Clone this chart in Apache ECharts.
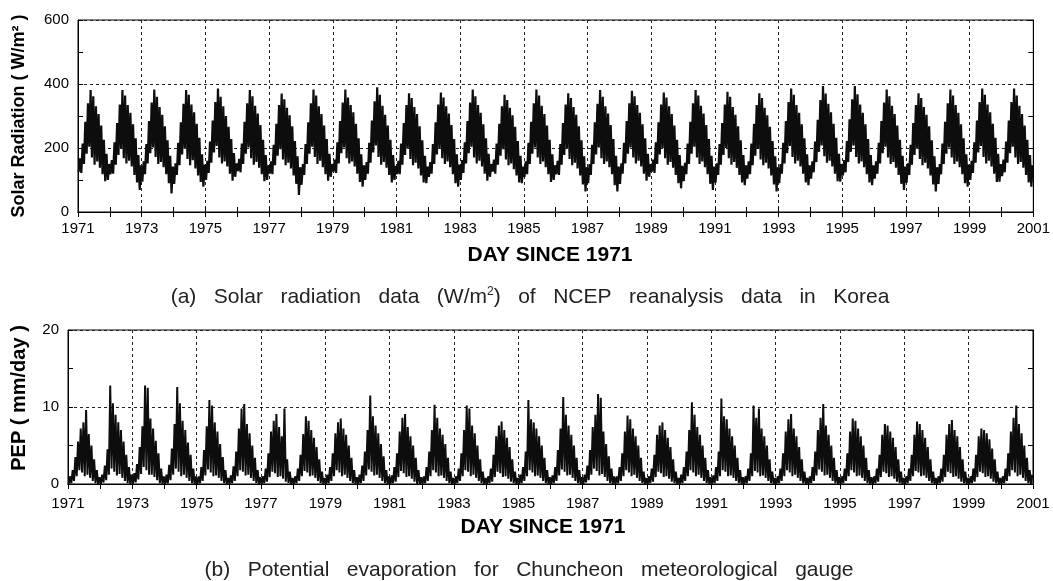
<!DOCTYPE html>
<html>
<head>
<meta charset="utf-8">
<script src="https://cdn.jsdelivr.net/npm/echarts@6/dist/echarts.min.js"></script>
<style>
html,body{margin:0;padding:0;background:#fff;}
#chart{width:1053px;height:581px;}
</style>
</head>
<body>
<div id="chart"></div>
<script>
// Years covered (each year: 12 monthly low/high envelope values)
const years = [1971,1972,1973,1974,1975,1976,1977,1978,1979,1980,1981,1982,1983,1984,1985,
               1986,1987,1988,1989,1990,1991,1992,1993,1994,1995,1996,1997,1998,1999,2000];
const xTickYears = [1971,1973,1975,1977,1979,1981,1983,1985,1987,1989,1991,1993,1995,1997,1999,2001];
const solarTicks = [0,200,400,600];
const pepTicks = [0,10,20];

// (a) Solar radiation (W/m2): monthly upper envelope
const solarHi = [
168,214,282,340,381,362,330,306,270,226,182,150,
162,218,278,336,381,364,334,310,274,230,178,146,
158,212,284,342,383,360,328,304,268,224,176,142,
152,216,280,338,381,366,336,312,276,232,180,148,
160,220,286,344,386,360,330,300,266,228,184,152,
166,214,282,340,381,362,332,308,272,226,178,146,
158,210,276,334,370,352,326,302,268,222,174,140,
150,212,280,340,383,364,330,306,270,228,182,150,
164,218,284,342,383,358,334,312,276,230,180,146,
156,216,286,346,390,366,332,304,270,226,178,144,
160,214,278,334,371,356,328,306,268,224,176,142,
156,212,280,336,373,358,330,308,272,228,180,148,
162,218,284,342,383,362,334,310,274,230,182,150,
164,214,276,330,366,350,326,302,266,222,176,142,
158,216,282,340,383,364,332,306,270,226,180,146,
160,212,278,336,371,356,328,304,268,224,174,140,
150,210,280,338,381,360,330,308,272,228,176,142,
152,216,284,340,379,362,334,310,274,230,182,150,
164,218,280,336,373,358,330,306,270,226,178,144,
154,214,282,340,381,364,332,308,272,228,176,142,
152,212,278,336,376,360,328,304,268,224,178,146,
158,214,276,334,371,356,326,302,266,222,174,140,
150,216,284,344,386,366,334,310,274,230,180,146,
158,220,288,350,394,370,338,312,276,232,182,150,
162,222,290,352,394,368,336,310,274,228,178,146,
158,216,284,342,383,362,332,306,270,226,176,142,
152,210,278,334,371,356,328,304,268,224,174,140,
150,214,282,340,383,364,334,310,274,230,180,148,
160,218,286,344,386,366,336,312,276,232,182,150,
164,220,286,344,386,364,332,306,270,226,178,146
];
// (a) Solar radiation (W/m2): monthly lower envelope
const solarLo = [
125,122,150,182,204,170,148,158,138,118,96,100,
118,120,148,178,200,168,152,160,142,116,92,69,
95,118,152,184,202,172,150,156,140,118,90,58,
88,116,146,180,198,166,146,162,136,114,94,79,
100,122,154,186,206,170,152,158,142,120,98,110,
128,124,150,182,202,168,148,156,138,118,96,100,
120,118,146,176,196,164,146,154,136,114,88,53,
85,116,150,182,204,172,150,160,140,118,98,110,
126,122,152,184,202,168,152,158,142,120,94,79,
100,120,154,186,208,172,148,156,138,116,92,100,
118,118,148,178,198,166,146,154,136,114,92,90,
110,120,150,180,200,168,150,158,140,118,90,79,
100,122,152,184,204,170,152,160,142,120,98,110,
126,120,148,176,196,164,146,152,134,114,92,90,
110,118,150,182,202,170,150,158,140,118,94,100,
118,116,148,178,198,166,146,154,136,114,86,64,
90,116,150,180,202,168,150,158,140,118,84,64,
88,120,152,182,202,170,152,160,142,120,98,110,
126,122,150,180,200,168,148,156,138,116,90,74,
96,118,150,182,204,170,150,158,140,118,88,69,
92,116,148,178,200,168,148,156,138,116,92,84,
104,118,146,176,198,164,146,154,136,114,86,64,
90,120,152,184,206,172,152,160,142,120,92,84,
104,124,156,188,208,174,154,160,142,120,96,95,
114,124,156,188,208,172,152,158,140,118,92,84,
104,120,152,184,204,170,150,156,138,116,88,69,
92,116,148,178,198,166,146,154,136,114,86,64,
88,118,150,182,202,170,150,158,140,118,90,79,
100,122,154,186,206,172,152,160,142,120,94,95,
112,124,154,184,204,170,150,156,138,116,92,79
];

// (b) Potential evaporation (mm/day): monthly upper envelope
const pepHi = [
1.0,1.8,3.5,5.5,7.2,8.0,9.6,6.5,5.0,3.2,1.8,0.9,
1.2,2.4,4.5,12.8,10.5,9.0,8.0,7.0,5.5,3.8,2.2,1.2,
1.4,2.6,4.8,7.5,12.8,12.5,8.5,7.2,5.6,4.0,2.0,1.0,
1.2,2.5,4.6,7.8,12.6,10.5,8.2,7.0,5.4,3.8,2.0,1.0,
1.0,2.2,4.4,7.5,10.9,10.2,8.0,6.8,5.2,3.5,1.8,0.8,
1.1,2.3,4.2,7.2,9.8,10.4,7.8,6.6,5.0,3.4,1.8,0.9,
1.0,2.0,4.0,6.8,8.2,9.1,7.4,6.2,9.8,3.2,1.6,0.8,
1.0,2.0,3.8,6.5,8.8,8.2,7.0,6.0,4.8,3.2,1.6,0.8,
1.2,2.2,4.0,6.6,8.0,8.5,7.2,6.4,5.0,3.4,1.8,0.9,
1.2,2.4,4.2,7.0,11.5,8.8,7.6,6.6,5.2,3.6,1.8,1.0,
1.1,2.2,4.0,6.8,8.6,9.1,7.4,6.2,5.0,3.4,1.8,0.9,
1.0,2.2,4.2,7.0,10.3,8.6,7.2,6.4,5.2,3.4,1.6,0.8,
1.0,2.0,4.0,7.0,10.2,9.8,7.6,6.6,5.0,3.2,1.6,0.8,
1.0,2.0,3.8,6.2,7.6,8.1,7.0,6.0,4.8,3.2,1.6,0.8,
1.2,2.2,4.2,10.9,8.4,8.0,7.2,6.2,5.0,3.4,1.8,0.9,
1.1,2.2,4.4,7.2,11.3,9.0,7.6,6.4,5.0,3.4,1.8,0.9,
1.2,2.4,4.4,7.4,9.0,11.7,11.2,6.8,5.2,3.6,2.0,1.0,
1.0,2.2,4.0,6.8,8.9,8.4,7.2,6.2,5.0,3.4,1.6,0.8,
1.0,2.0,3.8,6.4,7.6,8.0,7.0,6.0,4.8,3.2,1.6,0.8,
1.2,2.2,4.2,7.0,10.6,9.0,7.4,6.4,5.0,3.4,1.8,0.9,
1.1,2.2,4.2,11.1,8.8,8.4,7.2,6.2,5.0,3.4,1.8,0.9,
1.0,2.0,4.0,10.2,8.6,9.8,7.2,6.2,5.0,3.2,1.6,0.8,
1.0,2.0,4.0,6.8,8.4,9.1,7.2,6.2,4.8,3.2,1.6,0.8,
1.0,2.2,4.2,7.0,8.6,10.4,7.6,6.4,5.0,3.4,1.8,0.9,
1.0,2.0,4.0,6.8,8.5,8.2,7.2,6.2,5.0,3.4,1.8,0.9,
1.0,2.0,3.8,6.4,7.8,7.6,6.8,6.0,4.8,3.2,1.6,0.8,
1.0,2.0,3.8,6.4,8.1,7.8,7.0,6.0,4.8,3.2,1.6,0.8,
1.0,2.0,3.8,6.4,7.8,8.3,7.0,6.2,4.8,3.2,1.6,0.8,
1.0,2.0,3.8,6.2,7.2,7.0,6.6,5.8,4.6,3.2,1.6,0.8,
1.0,2.0,4.0,6.8,8.6,10.2,7.8,6.6,5.0,3.4,1.8,1.2
];
// (b) Potential evaporation (mm/day): monthly lower envelope
const pepLo = [
0.0,0.1,0.4,1.0,1.8,1.5,1.0,1.2,0.8,0.4,0.1,0.0,
0.0,0.2,0.5,1.2,2.0,1.6,1.1,1.3,0.8,0.4,0.1,0.0,
0.0,0.2,0.6,1.3,2.2,1.8,1.2,1.2,0.9,0.5,0.1,0.0,
0.0,0.1,0.5,1.2,2.0,1.6,1.0,1.2,0.8,0.4,0.1,0.0,
0.0,0.1,0.4,1.1,1.9,1.5,1.0,1.1,0.8,0.4,0.1,0.0,
0.0,0.1,0.4,1.0,1.8,1.6,1.1,1.2,0.8,0.4,0.1,0.0,
0.0,0.1,0.3,0.9,1.6,1.4,0.9,1.0,0.7,0.3,0.1,0.0,
0.0,0.1,0.4,1.0,1.7,1.5,1.0,1.1,0.8,0.4,0.1,0.0,
0.0,0.1,0.4,1.0,1.8,1.5,1.0,1.2,0.8,0.4,0.1,0.0,
0.0,0.1,0.4,1.1,1.9,1.6,1.1,1.2,0.8,0.4,0.1,0.0,
0.0,0.1,0.3,0.9,1.7,1.4,0.9,1.0,0.7,0.3,0.0,0.0,
0.0,0.1,0.4,1.0,1.8,1.5,1.0,1.1,0.8,0.4,0.1,0.0,
0.0,0.1,0.4,1.0,1.8,1.6,1.0,1.2,0.8,0.4,0.1,0.0,
0.0,0.1,0.3,0.9,1.6,1.4,0.9,1.0,0.7,0.3,0.1,0.0,
0.0,0.1,0.4,1.0,1.8,1.5,1.0,1.1,0.8,0.4,0.1,0.0,
0.0,0.1,0.4,1.1,1.9,1.6,1.1,1.2,0.8,0.4,0.1,0.0,
0.0,0.2,0.5,1.2,2.0,1.7,1.1,1.3,0.9,0.4,0.1,0.0,
0.0,0.1,0.4,1.0,1.8,1.5,1.0,1.2,0.8,0.4,0.1,0.0,
0.0,0.1,0.3,0.9,1.6,1.4,0.9,1.0,0.7,0.3,0.1,0.0,
0.0,0.1,0.4,1.0,1.8,1.5,1.0,1.2,0.8,0.4,0.1,0.0,
0.0,0.1,0.4,1.0,1.8,1.6,1.0,1.1,0.8,0.4,0.1,0.0,
0.0,0.1,0.4,1.0,1.7,1.5,1.0,1.1,0.8,0.4,0.1,0.0,
0.0,0.1,0.4,1.0,1.8,1.5,1.0,1.2,0.8,0.4,0.1,0.0,
0.0,0.1,0.4,1.1,1.9,1.6,1.1,1.2,0.8,0.4,0.1,0.0,
0.0,0.1,0.4,1.0,1.8,1.5,1.0,1.1,0.8,0.4,0.1,0.0,
0.0,0.1,0.3,0.9,1.6,1.4,0.9,1.0,0.7,0.3,0.1,0.0,
0.0,0.1,0.4,1.0,1.7,1.5,1.0,1.1,0.8,0.4,0.1,0.0,
0.0,0.1,0.3,0.9,1.6,1.4,0.9,1.0,0.7,0.3,0.1,0.0,
0.0,0.1,0.3,0.9,1.6,1.4,0.9,1.0,0.7,0.3,0.1,0.0,
0.0,0.1,0.4,1.0,1.8,1.5,1.0,1.2,0.8,0.4,0.1,0.0
];

function zigzag(lo, hi) {
  const out = [];
  for (let i = 0; i < lo.length; i++) {
    const y = years[Math.floor(i / 12)], m = i % 12;
    out.push([y + (m + 0.25) / 12, lo[i]]);
    out.push([y + (m + 0.75) / 12, hi[i]]);
  }
  return out;
}

const FONT = '"Liberation Sans", Arial, sans-serif';
const dash = { color: '#222', width: 1, type: [3, 3] };

function xAx(gi, pos, labels, margin) {
  return {
    type: 'value', gridIndex: gi, position: pos,
    min: xTickYears[0], max: xTickYears[xTickYears.length - 1], interval: 2,
    axisLine: { show: true, lineStyle: { color: '#000', width: 1 } },
    axisTick: { show: true, inside: true, length: 5, lineStyle: { color: '#000' } },
    minorTick: { show: true, splitNumber: 2, length: 5, lineStyle: { color: '#000' } },
    axisLabel: { show: labels, color: '#000', fontFamily: FONT, fontSize: 15, margin: margin,
                 formatter: v => String(v) },
    splitLine: { show: labels, lineStyle: dash }
  };
}
function yAx(gi, pos, ticks, labels) {
  return {
    type: 'value', gridIndex: gi, position: pos,
    min: ticks[0], max: ticks[ticks.length - 1], interval: ticks[1] - ticks[0],
    axisLine: { show: true, lineStyle: { color: '#000', width: 1 } },
    axisTick: { show: true, inside: true, length: 5, lineStyle: { color: '#000' } },
    minorTick: { show: true, splitNumber: 2, length: 5, lineStyle: { color: '#000' } },
    axisLabel: { show: labels, color: '#000', fontFamily: FONT, fontSize: 15, margin: 9 },
    splitLine: { show: labels, lineStyle: dash }
  };
}

const chart = echarts.init(document.getElementById('chart'), null, { renderer: 'canvas' });
chart.setOption({
  animation: false,
  backgroundColor: '#fff',
  grid: [
    { left: 78, right: 19, top: 20, height: 192, show: true, borderColor: '#000', borderWidth: 1 },
    { left: 68, right: 20, top: 330, height: 154, show: true, borderColor: '#000', borderWidth: 1 }
  ],
  xAxis: [xAx(0, 'bottom', true, 9), xAx(0, 'top', false, 8), xAx(1, 'bottom', true, 12), xAx(1, 'top', false, 8)],
  yAxis: [yAx(0, 'left', solarTicks, true), yAx(0, 'right', solarTicks, false),
          yAx(1, 'left', pepTicks, true), yAx(1, 'right', pepTicks, false)],
  series: [
    { type: 'line', xAxisIndex: 0, yAxisIndex: 0, data: zigzag(solarLo, solarHi),
      showSymbol: false, symbol: 'none', lineStyle: { color: '#0d0d0d', width: 2.2 }, silent: true },
    { type: 'line', xAxisIndex: 2, yAxisIndex: 2, data: zigzag(pepLo, pepHi),
      showSymbol: false, symbol: 'none', lineStyle: { color: '#0d0d0d', width: 2.0 }, silent: true }
  ],
  graphic: [
    { type: 'text', x: 19, y: 116, rotation: Math.PI / 2,
      style: { text: 'Solar Radiation ( W/m² )', font: 'bold 18px ' + FONT, fill: '#000',
               textAlign: 'center', textVerticalAlign: 'middle' } },
    { type: 'text', x: 19, y: 398, rotation: Math.PI / 2,
      style: { text: 'PEP ( mm/day )', font: 'bold 20px ' + FONT, fill: '#000',
               textAlign: 'center', textVerticalAlign: 'middle' } },
    { type: 'text', x: 550, y: 255,
      style: { text: 'DAY SINCE 1971', font: 'bold 21px ' + FONT, fill: '#000',
               textAlign: 'center', textVerticalAlign: 'middle' } },
    { type: 'text', x: 543, y: 527,
      style: { text: 'DAY SINCE 1971', font: 'bold 21px ' + FONT, fill: '#000',
               textAlign: 'center', textVerticalAlign: 'middle' } },
    { type: 'text', x: 530, y: 297,
      style: { text: '(a)   Solar   radiation   data   (W/m{s|2})   of   NCEP   reanalysis   data   in   Korea',
               font: '21px ' + FONT, fill: '#222', textAlign: 'center', textVerticalAlign: 'middle',
               rich: { s: { fontSize: 12, fontFamily: FONT, fill: '#222', verticalAlign: 'top', padding: [0,0,10,0] } } } },
    { type: 'text', x: 529, y: 570,
      style: { text: '(b)   Potential   evaporation   for   Chuncheon   meteorological   gauge',
               font: '21px ' + FONT, fill: '#222', textAlign: 'center', textVerticalAlign: 'middle' } }
  ]
});
</script>
</body>
</html>
